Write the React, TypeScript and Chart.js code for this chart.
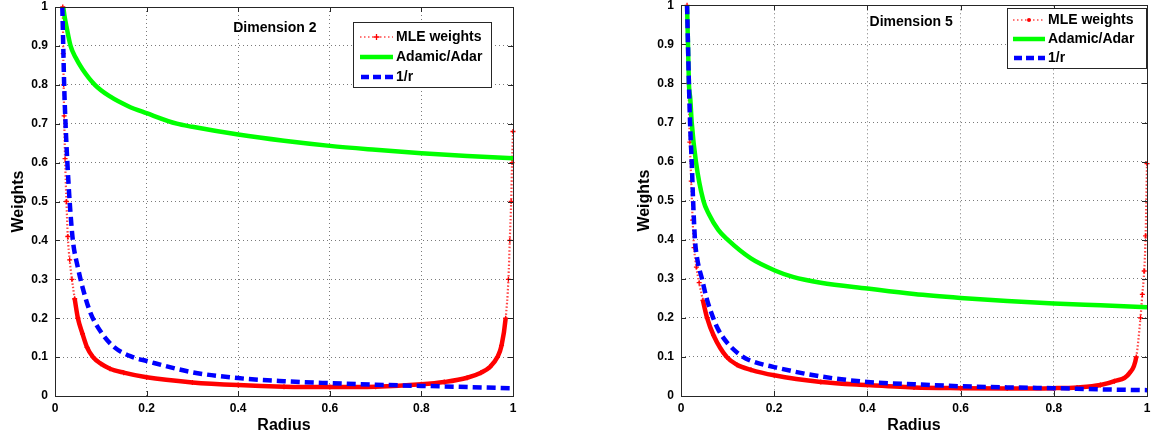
import React, { useEffect, useRef } from 'react';
import { Chart, registerables } from 'chart.js';

Chart.register(...registerables);

// ---------- data ----------
const legendLabels = ['MLE weights', 'Adamic/Adar', '1/r'];
const panelTitles = ['Dimension 2', 'Dimension 5'];
const xTickValues = [0, 0.2, 0.4, 0.6, 0.8, 1];
const yTickValues = [0, 0.1, 0.2, 0.3, 0.4, 0.5, 0.6, 0.7, 0.8, 0.9, 1];

// Dimension 2
const d2MleR = [0.017, 0.018, 0.019, 0.02, 0.022, 0.025, 0.028, 0.032, 0.037, 0.043, 0.05, 0.06, 0.07, 0.083, 0.1, 0.12, 0.15, 0.2, 0.3, 0.4, 0.5, 0.6, 0.7, 0.8, 0.85, 0.9, 0.93, 0.95, 0.966, 0.975, 0.984, 0.99, 0.993, 0.996, 0.998, 1.0];
const d2MleW = [1.0, 0.88, 0.8, 0.72, 0.61, 0.5, 0.41, 0.35, 0.3, 0.25, 0.2, 0.16, 0.125, 0.1, 0.083, 0.07, 0.06, 0.048, 0.035, 0.028, 0.024, 0.023, 0.024, 0.03, 0.036, 0.047, 0.06, 0.075, 0.1, 0.13, 0.2, 0.3, 0.4, 0.5, 0.6, 0.68];
const d2AdarR = [0.018, 0.021, 0.025, 0.034, 0.045, 0.06, 0.087, 0.12, 0.16, 0.2, 0.266, 0.3, 0.4, 0.5, 0.6, 0.7, 0.8, 0.9, 1.0];
const d2AdarW = [1.0, 0.975, 0.95, 0.9, 0.87, 0.84, 0.8, 0.77, 0.745, 0.727, 0.7, 0.692, 0.672, 0.656, 0.643, 0.633, 0.624, 0.617, 0.611];
const d2InvR = [0.016, 0.018, 0.02, 0.023, 0.027, 0.032, 0.039, 0.05, 0.06, 0.077, 0.1, 0.13, 0.17, 0.2, 0.3, 0.4, 0.5, 0.6, 0.7, 0.8, 0.9, 1.0];
const d2InvW = [1.0, 0.9, 0.8, 0.7, 0.6, 0.5, 0.4, 0.33, 0.28, 0.215, 0.165, 0.125, 0.1, 0.09, 0.061, 0.046, 0.038, 0.033, 0.029, 0.026, 0.023, 0.02];

// Dimension 5
const d5MleR = [0.013, 0.016, 0.019, 0.022, 0.025, 0.028, 0.033, 0.039, 0.047, 0.056, 0.07, 0.098, 0.12, 0.15, 0.2, 0.3, 0.4, 0.5, 0.6, 0.7, 0.8, 0.85, 0.9, 0.93, 0.962, 0.977, 0.986, 0.99, 0.994, 0.997, 1.0];
const d5MleW = [1.0, 0.8, 0.65, 0.55, 0.45, 0.38, 0.33, 0.29, 0.245, 0.2, 0.155, 0.1, 0.08, 0.067, 0.053, 0.036, 0.028, 0.022, 0.02, 0.019, 0.02, 0.022, 0.028, 0.038, 0.058, 0.1, 0.2, 0.26, 0.32, 0.41, 0.595];
const d5AdarR = [0.013, 0.015, 0.017, 0.02, 0.023, 0.032, 0.048, 0.06, 0.08, 0.1, 0.15, 0.2, 0.24, 0.3, 0.4, 0.5, 0.6, 0.7, 0.8, 0.9, 1.0];
const d5AdarW = [1.0, 0.9, 0.8, 0.76, 0.7, 0.6, 0.5, 0.465, 0.425, 0.4, 0.352, 0.322, 0.305, 0.29, 0.275, 0.261, 0.251, 0.243, 0.237, 0.232, 0.227];
const d5InvR = [0.013, 0.015, 0.017, 0.02, 0.023, 0.026, 0.03, 0.035, 0.045, 0.055, 0.069, 0.08, 0.1, 0.133, 0.15, 0.2, 0.3, 0.4, 0.5, 0.6, 0.7, 0.8, 0.9, 1.0];
const d5InvW = [1.0, 0.9, 0.8, 0.68, 0.6, 0.5, 0.4, 0.35, 0.3, 0.25, 0.2, 0.17, 0.135, 0.1, 0.09, 0.074, 0.05, 0.036, 0.03, 0.025, 0.022, 0.02, 0.017, 0.015];

// ---------- helpers ----------
const FONT = '"Liberation Sans", Arial, Helvetica, sans-serif';
const pts = (xs: number[], ys: number[]) => xs.map((x, i) => ({ x, y: ys[i] }));

const makeSteep = (limit: number) => (ctx: any) => {
  const dx = Math.abs(ctx.p1.x - ctx.p0.x);
  const dy = Math.abs(ctx.p1.y - ctx.p0.y);
  return dy > limit * Math.max(dx, 0.5);
};

type PanelCfg = {
  left: number;
  width: number;
  padTop: number;
  padRight: number;
  steepLimit: number;
  title: string;
  titleX: number;
  titleY: number;
  legend: { x: number; y: number; w: number; h: number; rows: number[]; sx0: number; sx1: number; tx: number; marker: 'plus' | 'dot' };
  mle: { x: number; y: number }[];
  adar: { x: number; y: number }[];
  inv: { x: number; y: number }[];
};

const framePlugin = {
  id: 'matlabFrame',
  afterDatasetsDraw(chart: any, _args: any, opts: any) {
    const { ctx, chartArea: a, scales } = chart;
    const cfg: PanelCfg = opts.cfg;
    ctx.save();
    ctx.strokeStyle = '#262626';
    ctx.lineWidth = 1;
    ctx.setLineDash([]);
    ctx.strokeRect(Math.round(a.left) + 0.5, Math.round(a.top) + 0.5, Math.round(a.right - a.left), Math.round(a.bottom - a.top));
    const tl = 5;
    ctx.beginPath();
    xTickValues.forEach((v) => {
      const px = Math.round(scales.x.getPixelForValue(v)) + 0.5;
      ctx.moveTo(px, a.bottom); ctx.lineTo(px, a.bottom - tl);
      ctx.moveTo(px, a.top); ctx.lineTo(px, a.top + tl);
    });
    yTickValues.forEach((v) => {
      const py = Math.round(scales.y.getPixelForValue(v)) + 0.5;
      ctx.moveTo(a.left, py); ctx.lineTo(a.left + tl, py);
      ctx.moveTo(a.right, py); ctx.lineTo(a.right - tl, py);
    });
    ctx.stroke();
    ctx.fillStyle = '#000';
    ctx.font = `bold 14px ${FONT}`;
    ctx.textAlign = 'center';
    ctx.textBaseline = 'middle';
    ctx.fillText(cfg.title, scales.x.getPixelForValue(cfg.titleX), scales.y.getPixelForValue(cfg.titleY));
    const L = cfg.legend;
    ctx.fillStyle = '#fff';
    ctx.fillRect(L.x, L.y, L.w, L.h);
    ctx.strokeStyle = '#262626';
    ctx.lineWidth = 1;
    ctx.strokeRect(L.x + 0.5, L.y + 0.5, L.w, L.h);
    ctx.strokeStyle = '#ff4a4a';
    ctx.lineWidth = 1.5;
    ctx.setLineDash([1.5, 2.5]);
    ctx.beginPath();
    ctx.moveTo(L.sx0, L.rows[0]); ctx.lineTo(L.sx1, L.rows[0]);
    ctx.stroke();
    ctx.setLineDash([]);
    const cx = (L.sx0 + L.sx1) / 2;
    if (L.marker === 'plus') {
      ctx.strokeStyle = '#ff0000';
      ctx.lineWidth = 1.3;
      ctx.beginPath();
      ctx.moveTo(cx - 3, L.rows[0]); ctx.lineTo(cx + 3, L.rows[0]);
      ctx.moveTo(cx, L.rows[0] - 3); ctx.lineTo(cx, L.rows[0] + 3);
      ctx.stroke();
    } else {
      ctx.fillStyle = '#ff0000';
      ctx.beginPath();
      ctx.arc(cx, L.rows[0], 2, 0, Math.PI * 2);
      ctx.fill();
    }
    ctx.strokeStyle = '#00ff00';
    ctx.lineWidth = 4.5;
    ctx.beginPath();
    ctx.moveTo(L.sx0, L.rows[1]); ctx.lineTo(L.sx1, L.rows[1]);
    ctx.stroke();
    ctx.strokeStyle = '#0000ff';
    ctx.setLineDash([8, 4]);
    ctx.beginPath();
    ctx.moveTo(L.sx0 + 1, L.rows[2]); ctx.lineTo(L.sx1, L.rows[2]);
    ctx.stroke();
    ctx.setLineDash([]);
    ctx.fillStyle = '#000';
    ctx.font = `bold 14px ${FONT}`;
    ctx.textAlign = 'left';
    ctx.textBaseline = 'middle';
    legendLabels.forEach((t, i) => ctx.fillText(t, L.tx, L.rows[i]));
    ctx.restore();
  },
};

const fmt = (v: number | string) => String(Math.round(Number(v) * 10) / 10);

function Panel({ cfg }: { cfg: PanelCfg }) {
  const ref = useRef<HTMLCanvasElement>(null);
  useEffect(() => {
    const steep = makeSteep(cfg.steepLimit);
    const chart = new Chart(ref.current as HTMLCanvasElement, {
      type: 'line',
      data: {
        datasets: [
          {
            label: legendLabels[2],
            data: cfg.inv,
            borderColor: '#0000ff',
            borderWidth: 4.5,
            borderDash: [9, 5],
            borderCapStyle: 'butt',
            pointRadius: 0,
            cubicInterpolationMode: 'monotone',
            fill: false,
          },
          {
            label: legendLabels[1],
            data: cfg.adar,
            borderColor: '#00ff00',
            borderWidth: 4.5,
            pointRadius: 0,
            cubicInterpolationMode: 'monotone',
            fill: false,
          },
          {
            label: legendLabels[0],
            data: cfg.mle,
            borderColor: '#ff0000',
            borderWidth: 4.5,
            pointStyle: 'cross',
            pointRadius: 2.5,
            pointBorderWidth: 1.3,
            pointBorderColor: '#ff0000',
            pointBackgroundColor: '#ff0000',
            cubicInterpolationMode: 'monotone',
            fill: false,
            clip: 6,
            segment: {
              borderDash: (c: any) => (steep(c) ? [1.5, 2] : undefined),
              borderWidth: (c: any) => (steep(c) ? 2.2 : undefined),
              borderColor: (c: any) => (steep(c) ? '#ff4545' : undefined),
            },
          } as any,
        ],
      },
      options: {
        responsive: false,
        animation: false,
        devicePixelRatio: 1,
        layout: { padding: { top: cfg.padTop, right: cfg.padRight, left: 0, bottom: 0 } },
        plugins: {
          legend: { display: false },
          tooltip: { enabled: false },
          matlabFrame: { cfg },
        } as any,
        scales: {
          x: {
            type: 'linear',
            min: 0,
            max: 1,
            afterBuildTicks: (s: any) => { s.ticks = xTickValues.map((v) => ({ value: v })); },
            afterFit: (s: any) => { s.height = 44; s.paddingLeft = 0; s.paddingRight = 0; },
            ticks: { color: '#000', padding: 5, font: { family: FONT, size: 12, weight: 'bold' }, maxRotation: 0, callback: (v: any) => fmt(v) },
            grid: { color: '#7a7a7a', lineWidth: 1, drawTicks: false },
            border: { display: false, dash: [1, 3] },
            title: { display: true, text: 'Radius', color: '#000', font: { family: FONT, size: 16, weight: 'bold' }, padding: { top: 0, bottom: 5 } },
          },
          y: {
            type: 'linear',
            min: 0,
            max: 1,
            afterBuildTicks: (s: any) => { s.ticks = yTickValues.map((v) => ({ value: v })); },
            afterFit: (s: any) => { s.width = 55; s.paddingTop = 0; s.paddingBottom = 0; },
            ticks: { color: '#000', padding: 7, font: { family: FONT, size: 12, weight: 'bold' }, callback: (v: any) => fmt(v) },
            grid: { color: '#7a7a7a', lineWidth: 1, drawTicks: false },
            border: { display: false, dash: [1, 3] },
            title: { display: true, text: 'Weights', color: '#000', font: { family: FONT, size: 16, weight: 'bold' }, padding: { top: 9, bottom: 0 } },
          },
        },
      } as any,
      plugins: [framePlugin],
    });
    return () => chart.destroy();
  }, []);
  return (
    <canvas
      ref={ref}
      width={cfg.width}
      height={440}
      style={{ position: 'absolute', left: cfg.left, top: 0, width: cfg.width, height: 440 }}
    />
  );
}

const panels: PanelCfg[] = [
  {
    left: 0,
    width: 575,
    padTop: 7,
    padRight: 62,
    steepLimit: 7,
    title: panelTitles[0],
    titleX: 0.48,
    titleY: 0.946,
    legend: { x: 353, y: 22, w: 138, h: 65, rows: [37, 57, 77], sx0: 360, sx1: 393, tx: 396, marker: 'plus' },
    mle: pts(d2MleR, d2MleW),
    adar: pts(d2AdarR, d2AdarW),
    inv: pts(d2InvR, d2InvW),
  },
  {
    left: 626,
    width: 536,
    padTop: 3,
    padRight: 15,
    steepLimit: 4.5,
    title: panelTitles[1],
    titleX: 0.494,
    titleY: 0.957,
    legend: { x: 381, y: 8, w: 139, h: 60, rows: [20, 39, 58], sx0: 387, sx1: 419, tx: 422, marker: 'dot' },
    mle: pts(d5MleR, d5MleW),
    adar: pts(d5AdarR, d5AdarW),
    inv: pts(d5InvR, d5InvW),
  },
];

export default function App() {
  return (
    <div style={{ position: 'fixed', left: 0, top: 0, width: 1162, height: 440, background: '#fff', overflow: 'hidden' }}>
      {panels.map((p, i) => (
        <Panel key={i} cfg={p} />
      ))}
    </div>
  );
}
